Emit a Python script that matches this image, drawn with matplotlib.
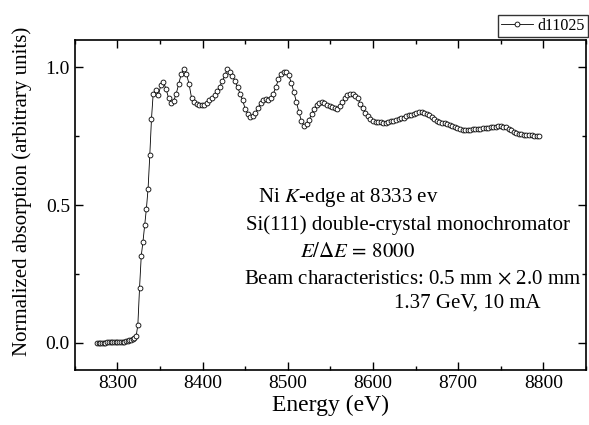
import numpy as np
import matplotlib
matplotlib.use("Agg")
import matplotlib.pyplot as plt
from matplotlib.ticker import MultipleLocator

plt.rcParams['font.family'] = ['Liberation Serif', 'DejaVu Serif']
plt.rcParams['mathtext.fontset'] = 'stix'

# pre-edge
e_pre = [8276, 8278, 8280, 8282, 8284, 8286, 8288, 8290, 8292, 8294, 8296, 8298,
         8300, 8302, 8304, 8306, 8308, 8310, 8312, 8314, 8316, 8318, 8320]
mu_pre = [0.000, 0.000, 0.000, 0.000, 0.000, 0.000, 0.001, 0.001, 0.001, 0.001, 0.001, 0.002,
          0.002, 0.002, 0.003, 0.003, 0.004, 0.005, 0.006, 0.008, 0.010, 0.013, 0.017]

# absorption edge
e_edge = [8322, 8324, 8326, 8328, 8330, 8332, 8334, 8336, 8338, 8340]
mu_edge = [0.023, 0.065, 0.200, 0.316, 0.367, 0.428, 0.486, 0.560, 0.681, 0.814]

# near-edge and EXAFS region
e_exafs = [8342, 8345, 8348, 8351, 8354, 8357, 8360, 8363, 8366, 8369, 8372, 8375,
           8378, 8381, 8384, 8387, 8390, 8393, 8396, 8399, 8402, 8405, 8408, 8411,
           8414, 8417, 8420, 8423, 8426, 8429, 8432, 8435, 8438, 8441, 8444, 8447,
           8450, 8453, 8456, 8459, 8462, 8465, 8468, 8471, 8474, 8477, 8480, 8483,
           8486, 8489, 8492, 8495, 8498, 8501, 8504, 8507, 8510, 8513, 8516, 8519,
           8522, 8525, 8528, 8531, 8534, 8537, 8540, 8543, 8546, 8549, 8552, 8555,
           8558, 8561, 8564, 8567, 8570, 8573, 8576, 8579, 8582, 8585, 8588, 8591,
           8594, 8597, 8600, 8603, 8606, 8609, 8612, 8615, 8618, 8621, 8624, 8627,
           8630, 8633, 8636, 8639, 8642, 8645, 8648, 8651, 8654, 8657, 8660, 8663,
           8666, 8669, 8672, 8675, 8678, 8681, 8684, 8687, 8690, 8693, 8696, 8699,
           8702, 8705, 8708, 8711, 8714, 8717, 8720, 8723, 8726, 8729, 8732, 8735,
           8738, 8741, 8744, 8747, 8750, 8753, 8756, 8759, 8762, 8765, 8768, 8771,
           8774, 8777, 8780, 8783, 8786, 8789, 8792, 8795]
mu_exafs = [0.905, 0.918, 0.900, 0.935, 0.948, 0.922, 0.890, 0.872, 0.878, 0.905, 0.940, 0.978,
            0.993, 0.977, 0.941, 0.890, 0.873, 0.868, 0.865, 0.864, 0.865, 0.871, 0.880, 0.889,
            0.899, 0.913, 0.929, 0.950, 0.971, 0.994, 0.985, 0.970, 0.950, 0.928, 0.905, 0.880,
            0.850, 0.832, 0.821, 0.822, 0.834, 0.852, 0.871, 0.882, 0.887, 0.882, 0.888, 0.905,
            0.929, 0.957, 0.975, 0.983, 0.982, 0.973, 0.945, 0.912, 0.875, 0.838, 0.805, 0.789,
            0.793, 0.810, 0.831, 0.850, 0.864, 0.872, 0.874, 0.870, 0.865, 0.860, 0.856, 0.852,
            0.850, 0.860, 0.874, 0.888, 0.900, 0.905, 0.905, 0.898, 0.888, 0.868, 0.851, 0.836,
            0.823, 0.813, 0.807, 0.803, 0.802, 0.801, 0.800, 0.800, 0.802, 0.804, 0.806, 0.809,
            0.812, 0.815, 0.818, 0.822, 0.826, 0.829, 0.832, 0.835, 0.837, 0.838, 0.836, 0.832,
            0.827, 0.820, 0.813, 0.806, 0.802, 0.799, 0.797, 0.794, 0.792, 0.788, 0.783, 0.779,
            0.776, 0.774, 0.772, 0.773, 0.774, 0.775, 0.776, 0.777, 0.778, 0.779, 0.780, 0.781,
            0.782, 0.784, 0.785, 0.786, 0.787, 0.785, 0.782, 0.778, 0.773, 0.767, 0.763, 0.760,
            0.758, 0.756, 0.755, 0.754, 0.753, 0.752, 0.751, 0.750]

energy = e_pre + e_edge + e_exafs
mu = mu_pre + mu_edge + mu_exafs

fig = plt.figure(figsize=(5.89, 4.25), dpi=100)
ax = fig.add_axes([0.127, 0.129, 0.868, 0.777])

ax.plot(energy, mu, '-o', color='black', lw=0.6, ms=3.5, mfc='white',
        mec='black', mew=0.6, label='d11025')

ax.set_xlim(8250, 8850)
ax.set_ylim(-0.1, 1.1)
ax.xaxis.set_major_locator(MultipleLocator(100))
ax.xaxis.set_minor_locator(MultipleLocator(50))
ax.yaxis.set_major_locator(MultipleLocator(0.5))
ax.yaxis.set_minor_locator(MultipleLocator(0.25))
ax.tick_params(which='both', direction='in', top=True, right=True, labelsize=14, width=1.0)
ax.tick_params(which='major', length=6)
ax.tick_params(which='minor', length=3)
for sp in ax.spines.values():
    sp.set_linewidth(1.2)

ax.set_xlabel('Energy (eV)', fontsize=17, labelpad=2)
ax.set_ylabel('Normalized absorption (arbitrary units)', fontsize=15)
ax.yaxis.set_label_coords(-0.083, 0.54)

fs = 15
ax.text(8465, 0.529, 'Ni $K$-edge at 8333 ev', fontsize=fs, va='center')
ax.text(8451, 0.427, 'Si(111) double-crystal monochromator', fontsize=fs, va='center')
ax.text(8514, 0.329, r'$E/\Delta E\,=\,8000$', fontsize=fs, va='center')
ax.text(8448, 0.227, r'Beam characteristics: 0.5 mm $\times$ 2.0 mm', fontsize=fs, va='center')
ax.text(8797, 0.144, '1.37 GeV, 10 mA', fontsize=fs, va='center', ha='right')

fig.legend(loc='upper right', bbox_to_anchor=(0.999, 0.965), fontsize=11.5,
           frameon=True, fancybox=False, edgecolor='black', handlelength=2.0,
           borderpad=0.2, handletextpad=0.3, borderaxespad=0)

fig.savefig('out.png', dpi=100)
